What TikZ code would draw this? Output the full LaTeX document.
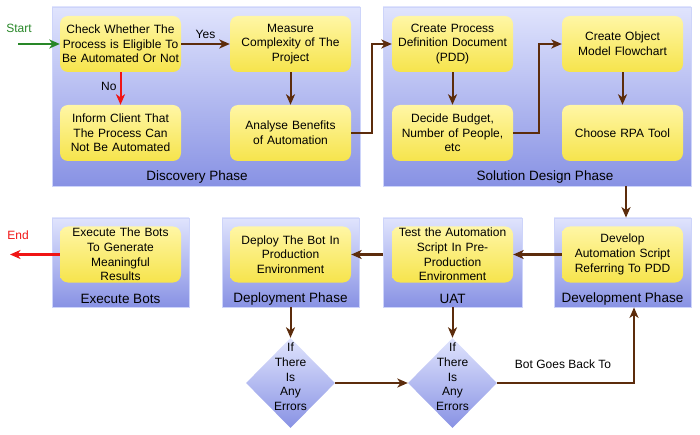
\documentclass[tikz,border=0pt]{standalone}
\usepackage{fontspec}
\setmainfont{Liberation Sans}
\usetikzlibrary{shapes.geometric,arrows.meta,calc}
\definecolor{ptop}{RGB}{224,228,253}
\definecolor{pbot}{RGB}{136,146,228}
\definecolor{ytop}{RGB}{255,246,165}
\definecolor{ybot}{RGB}{246,228,76}
\definecolor{brn}{RGB}{92,44,12}
\definecolor{grn}{RGB}{40,135,40}
\definecolor{rd}{RGB}{240,20,20}
\definecolor{pedge}{RGB}{205,212,250}
\tikzset{
  panel/.style={draw=pedge, line width=0.8pt, top color=ptop, bottom color=pbot, inner sep=0pt},
  ybox/.style={rounded corners=8pt, top color=ytop, bottom color=ybot, draw=none,
    minimum width=121pt, minimum height=56pt, text width=118pt, align=center,
    inner sep=0pt, font=\fontsize{12}{14.7}\selectfont},
  plabel/.style={font=\fontsize{13.5}{15}\selectfont, inner sep=0pt},
  dia/.style={diamond, top color=ptop, bottom color=pbot, draw=none, minimum width=89pt, minimum height=90pt, inner sep=0pt},
  dtext/.style={align=center, font=\fontsize{12}{14.7}\selectfont, inner sep=0pt},
  arr/.style={draw=brn, line width=2pt, -{Stealth[length=10.5pt,width=9pt,inset=3pt]}},
  small/.style={font=\fontsize{12}{14}\selectfont, inner sep=0pt}
}
\begin{document}
\begin{tikzpicture}[x=1pt,y=-1pt]
\useasboundingbox (0,0) rectangle (700,435);
% panels
\node[panel, minimum width=308pt, minimum height=179pt] (disc) at (206,96.5) {};
\node[panel, minimum width=308pt, minimum height=179pt] (sol) at (537,96.5) {};
\node[panel, minimum width=137pt, minimum height=89pt] (exep) at (120.5,262.5) {};
\node[panel, minimum width=137pt, minimum height=89pt] (depp) at (290.5,262.5) {};
\node[panel, minimum width=139pt, minimum height=89pt] (uatp) at (452.5,262.5) {};
\node[panel, minimum width=137pt, minimum height=89pt] (devp) at (622.5,262.5) {};
% panel labels
\node[plabel] (discl) at (197,177) {Discovery Phase};
\node[plabel] (soll) at (545,177) {Solution Design Phase};
\node[plabel] (exel) at (120.5,299) {Execute Bots};
\node[plabel] (depl) at (290.5,299) {Deployment Phase};
\node[plabel] (uatl) at (452.5,299) {UAT};
\node[plabel] (devl) at (622.5,299) {Development Phase};
% boxes
\node[ybox] (check) at (120.5,44) {Check Whether The\\Process is Eligible To\\Be Automated Or Not};
\node[ybox] (measure) at (290.5,44) {Measure\\Complexity of The\\Project};
\node[ybox] (inform) at (120.5,133) {Inform Client That\\The Process Can\\Not Be Automated};
\node[ybox] (analyse) at (290.5,133) {Analyse Benefits\\of Automation};
\node[ybox] (createp) at (452.5,44) {Create Process\\Definition Document\\(PDD)};
\node[ybox] (decide) at (452.5,133) {Decide Budget,\\Number of People,\\etc};
\node[ybox] (createo) at (622.5,44) {Create Object\\Model Flowchart};
\node[ybox] (choose) at (622.5,133) {Choose RPA Tool};
\node[ybox] (execute) at (120.5,254.5) {Execute The Bots\\To Generate\\Meaningful\\Results};
\node[ybox] (deploy) at (290.5,254.5) {Deploy The Bot In\\Production\\Environment};
\node[ybox] (test) at (452.5,254.5) {Test the Automation\\Script In Pre-\\Production\\Environment};
\node[ybox] (develop) at (622.5,254.5) {Develop\\Automation Script\\Referring To PDD};
% diamonds
\node[dia] (d1) at (290.5,383) {};
\node[dia] (d2) at (452.5,383) {};
\node[dtext] (d1t) at (290.5,377) {If\\There\\Is\\Any\\Errors};
\node[dtext] (d2t) at (452.5,377) {If\\There\\Is\\Any\\Errors};
% start / end
\node[small, text=grn] (startl) at (19,28) {Start};
\coordinate (start) at (18,44);
\node[small, text=rd] (endl) at (18,235) {End};
\coordinate (endc) at (10,254.5);
% connectors
\draw[arr, draw=grn] (start) -- (check.west);
\draw[arr] (check.east) -- node[small, above=4pt] (yes) {Yes} (measure.west);
\draw[arr, draw=rd] (check.south) -- node[small, left=3pt, pos=0.45] (no) {No} (inform.north);
\draw[arr] (measure.south) -- (analyse.north);
\draw[arr] (analyse.east) -- ++(21,0) |- (createp.west);
\draw[arr] (createp.south) -- (decide.north);
\draw[arr] (decide.east) -- ++(26,0) |- (createo.west);
\draw[arr] (createo.south) -- (choose.north);
\draw[arr] ([xshift=89pt]sol.south) -- ([xshift=89pt]sol.south |- devp.north);
\draw[arr] (develop.west) -- (test.east);
\draw[arr] (uatp.west |- test.west) -- (deploy.east);
\draw[arr, draw=rd] (execute.west) -- (endc);
\draw[arr] (depp.south) -- (d1.north);
\draw[arr] (uatp.south) -- (d2.north);
\draw[arr] (d1.east) -- (d2.west);
\draw[arr] (d2.east) -| ([xshift=11.5pt]devp.south);
\node[small] (back) at (563,364) {Bot Goes Back To};
\end{tikzpicture}
\end{document}
